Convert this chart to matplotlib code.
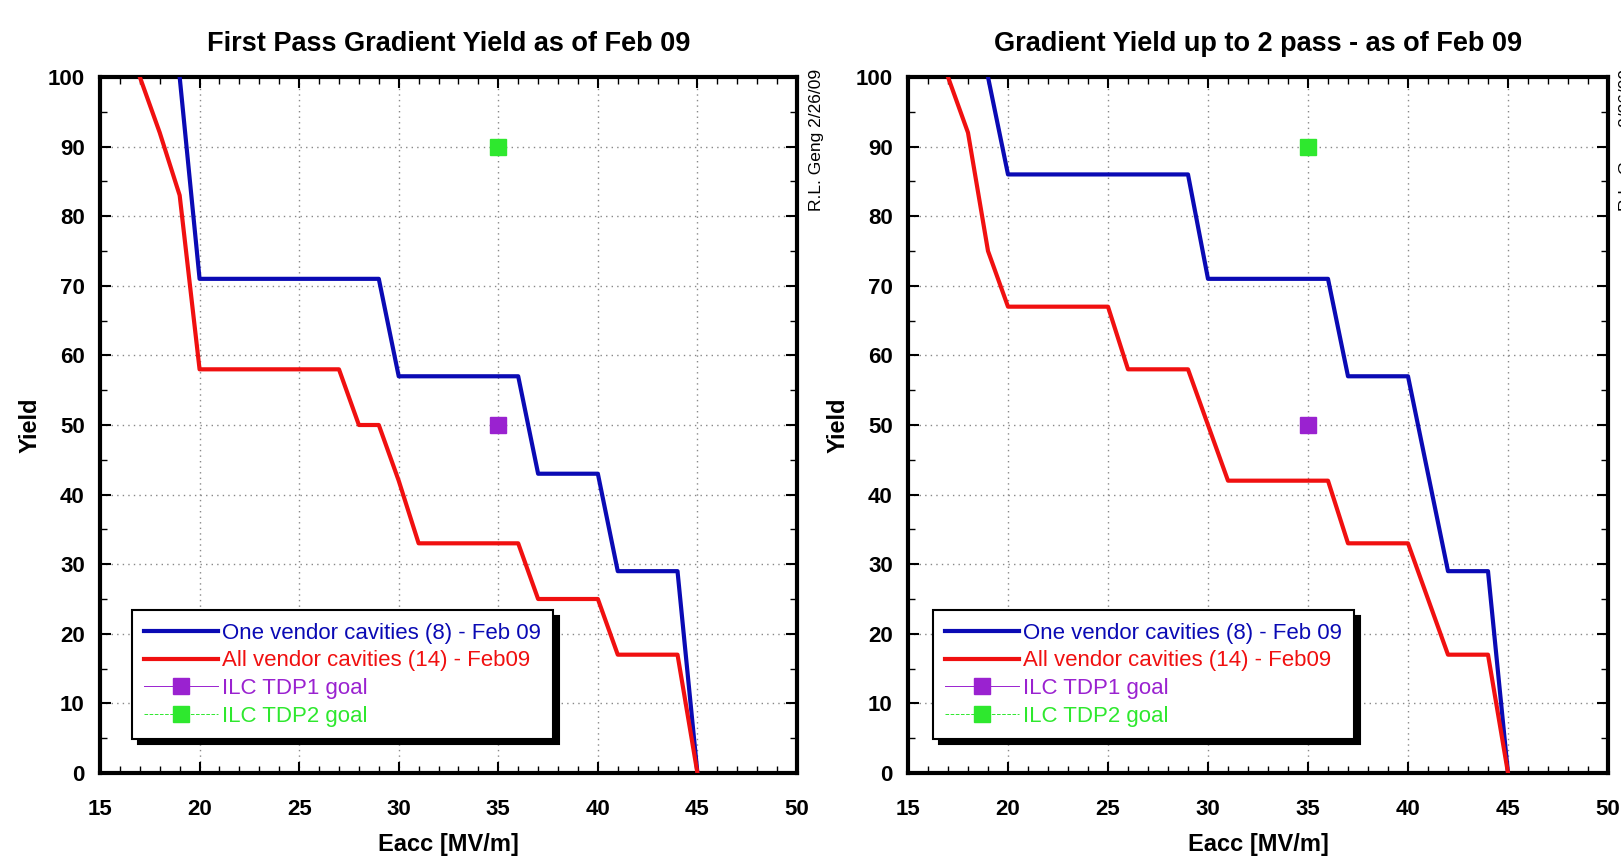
import matplotlib
matplotlib.use("Agg")
from matplotlib import pyplot as plt
from matplotlib.lines import Line2D
from matplotlib.ticker import MultipleLocator

plt.rcParams['font.family'] = ['Liberation Sans', 'DejaVu Sans']

# first pass yield (left panel)
eacc_one_1 = [19, 20, 29, 30, 36, 37, 40, 41, 44, 45]
yield_one_1 = [100, 71, 71, 57, 57, 43, 43, 29, 29, 0]
eacc_all_1 = [17, 18, 19, 20, 27, 28, 29, 30, 31, 36, 37, 40, 41, 44, 45]
yield_all_1 = [100, 92, 83, 58, 58, 50, 50, 42, 33, 33, 25, 25, 17, 17, 0]

# up to 2 pass yield (right panel)
eacc_one_2 = [19, 20, 29, 30, 36, 37, 40, 42, 44, 45]
yield_one_2 = [100, 86, 86, 71, 71, 57, 57, 29, 29, 0]
eacc_all_2 = [17, 18, 19, 20, 25, 26, 29, 31, 36, 37, 40, 42, 44, 45]
yield_all_2 = [100, 92, 75, 67, 67, 58, 58, 42, 42, 33, 33, 17, 17, 0]

# ILC goals
tdp1_x, tdp1_y = [35], [50]
tdp2_x, tdp2_y = [35], [90]

titles = ["First Pass Gradient Yield as of Feb 09",
          "Gradient Yield up to 2 pass - as of Feb 09"]
labels = ["One vendor cavities (8) - Feb 09",
          "All vendor cavities (14) - Feb09",
          "ILC TDP1 goal",
          "ILC TDP2 goal"]

BLUE = '#0a0ab4'
RED = '#f01010'
PURPLE = '#9a22d0'
GREEN = '#2ee82e'

fig = plt.figure(figsize=(16.21, 8.6), dpi=100)
ax1 = fig.add_axes([100/1621, 87/860, 697/1621, 696/860])
ax2 = fig.add_axes([908/1621, 87/860, 700/1621, 696/860])

panels = [(ax1, eacc_one_1, yield_one_1, eacc_all_1, yield_all_1, titles[0], 0.046),
          (ax2, eacc_one_2, yield_one_2, eacc_all_2, yield_all_2, titles[1], 0.036)]

for ax, xo, yo, xa, ya, ttl, legx in panels:
    ax.plot(xo, yo, color=BLUE, lw=3, zorder=3)
    ax.plot(xa, ya, color=RED, lw=3, zorder=3)
    ax.plot(tdp1_x, tdp1_y, 's', color=PURPLE, ms=11, zorder=4)
    ax.plot(tdp2_x, tdp2_y, 's', color=GREEN, ms=11, zorder=4)

    ax.set_xlim(15, 50)
    ax.set_ylim(0, 100)
    ax.xaxis.set_major_locator(MultipleLocator(5))
    ax.xaxis.set_minor_locator(MultipleLocator(1))
    ax.yaxis.set_major_locator(MultipleLocator(10))
    ax.yaxis.set_minor_locator(MultipleLocator(5))
    ax.tick_params(which='both', direction='in', top=True, right=True)
    ax.tick_params(which='major', length=8, width=1.5, labelsize=16)
    ax.tick_params(which='minor', length=5, width=1)
    ax.tick_params(axis='x', which='major', pad=19)
    ax.tick_params(axis='y', which='major', pad=11)
    for lab in ax.get_xticklabels() + ax.get_yticklabels():
        lab.set_fontweight('bold')
    for sp in ax.spines.values():
        sp.set_linewidth(3)
    ax.grid(True, which='major', color='#888888', linestyle=(0, (1, 3)), linewidth=1)

    ax.set_title(ttl, fontsize=19.5, fontweight='bold', pad=19)
    ax.set_xlabel("Eacc [MV/m]", fontsize=17, fontweight='bold', labelpad=9)
    ax.set_ylabel("Yield", fontsize=17, fontweight='bold', labelpad=4)

    handles = [Line2D([], [], color=BLUE, lw=3),
               Line2D([], [], color=RED, lw=3),
               Line2D([], [], color=PURPLE, lw=0.7, marker='s', ms=11),
               Line2D([], [], color=GREEN, lw=0.7, ls='--', marker='s', ms=11)]
    leg = ax.legend(handles, labels, loc='lower left', bbox_to_anchor=(legx, 0.049),
                    fontsize=16, labelcolor='linecolor', handlelength=3.3,
                    labelspacing=0.3, handletextpad=0.2, borderpad=0.55,
                    borderaxespad=0, fancybox=False, framealpha=1, edgecolor='black',
                    shadow={'ox': 4, 'oy': -4, 'color': 'black', 'alpha': 1})
    leg.get_frame().set_linewidth(1.5)

fig.text(817/1621, 1 - 140/860, "R.L. Geng 2/26/09", rotation=90,
         ha='center', va='center', fontsize=12.5)
fig.text(1626/1621, 1 - 140/860, "R.L. Geng 2/26/09", rotation=90,
         ha='center', va='center', fontsize=12.5)

fig.savefig("out.png", dpi=100)
